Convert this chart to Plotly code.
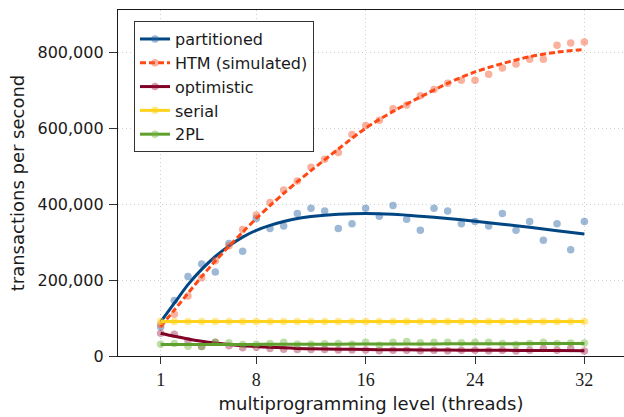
import plotly.graph_objects as go

threads = list(range(1, 33))

# measured points (transactions per second)
partitioned = [77000, 146000, 209000, 242000, 221000, 296000, 276000, 362000,
               336000, 342000, 375000, 389000, 382000, 336000, 348000, 389000,
               368000, 396000, 360000, 331000, 389000, 382000, 348000, 354000,
               342000, 375000, 331000, 354000, 305000, 348000, 280000, 354000]
htm = [83000, 110000, 158000, 206000, 251000, 290000, 333000, 371000,
       404000, 437000, 461000, 497000, 518000, 536000, 583000, 607000,
       621000, 651000, 661000, 685000, 702000, 718000, 726000, 726000,
       742000, 758000, 769000, 781000, 781000, 818000, 824000, 827000]
optimistic = [60000, 57000, 40000, 25000, 36000, 27000, 22000, 23000,
              20000, 18000, 17000, 17000, 17000, 16000, 16000, 16000,
              14000, 15000, 15000, 14000, 15000, 14000, 15000, 15000,
              14000, 15000, 13000, 15000, 20000, 15000, 20000, 13000]
serial = [91000] * 32
two_pl = [31000, 33000, 26000, 25000, 36000, 35000, 30000, 31000,
          33000, 36000, 31000, 31000, 32000, 33000, 31000, 36000,
          28000, 36000, 38000, 35000, 36000, 36000, 35000, 36000,
          36000, 33000, 30000, 33000, 36000, 33000, 34000, 34000]

# fitted curves
fit_x = [1, 2, 3, 4, 5, 6, 7, 8, 9, 10, 11, 12, 14, 16, 18, 20, 22, 24,
         26, 28, 30, 32]
fit_partitioned = [90000, 139000, 188000, 228000, 262000, 290000, 313000,
                   331000, 344000, 354000, 362000, 367000, 373000, 375000,
                   373000, 368000, 362000, 355000, 347000, 339000, 330000,
                   321000]
fit_htm = [77000, 121000, 165000, 209000, 250000, 289000, 326000, 362000,
           396000, 428000, 459000, 488000, 545000, 600000, 644000, 682000,
           718000, 748000, 770000, 788000, 800000, 807000]
fit_optimistic = [60000, 52000, 45000, 39000, 34000, 30000, 27000, 25000,
                  23000, 21500, 20000, 19000, 18000, 17000, 16500, 16000,
                  15500, 15000, 15000, 14500, 14200, 14000]
fit_serial = [91000] * 22
fit_two_pl = [30000, 30050, 30100, 30200, 30300, 30400, 30500, 30600,
              30700, 30800, 30900, 31000, 31200, 31400, 31600, 31800,
              32000, 32200, 32400, 32600, 32800, 33000]

names = ["partitioned", "HTM (simulated)", "optimistic", "serial", "2PL"]
line_colors = ["rgb(0,70,130)", "rgb(255,72,20)", "rgb(128,0,38)",
               "rgb(255,210,30)", "rgb(95,160,45)"]
point_colors = ["rgba(40,100,165,0.45)", "rgba(245,100,60,0.5)",
                "rgba(150,20,60,0.4)", "rgba(255,210,30,0.5)",
                "rgba(110,180,60,0.45)"]
dashes = ["solid", "6px,3px", "solid", "solid", "solid"]
points = [partitioned, htm, optimistic, serial, two_pl]
fits = [fit_partitioned, fit_htm, fit_optimistic, fit_serial, fit_two_pl]

fig = go.Figure()

for i in range(5):
    fig.add_trace(go.Scatter(
        x=threads, y=points[i], mode="markers", showlegend=False,
        marker=dict(size=7.5, color=point_colors[i], line=dict(width=0)),
        hoverinfo="skip"))
    fig.add_trace(go.Scatter(
        x=fit_x, y=fits[i], mode="lines", showlegend=False,
        line=dict(color=line_colors[i], width=3, dash=dashes[i],
                  shape="spline", smoothing=0.8),
        hoverinfo="skip"))

# legend entries
for i in range(5):
    fig.add_trace(go.Scatter(
        x=[None], y=[None], mode="lines+markers", name=names[i],
        line=dict(color=line_colors[i], width=3, dash=dashes[i]),
        marker=dict(size=7.5, color=point_colors[i], line=dict(width=0))))

fig.update_layout(
    width=624, height=417,
    margin=dict(l=118, r=0, t=10, b=61),
    paper_bgcolor="white", plot_bgcolor="white",
    font=dict(family="DejaVu Sans", color="#1a1a1a"),
    legend=dict(
        x=0.0316, y=0.968, xanchor="left", yanchor="top",
        bgcolor="white", bordercolor="#333", borderwidth=1,
        font=dict(family="DejaVu Sans", size=16, color="#1a1a1a"),
        tracegroupgap=0, itemwidth=30),
)

fig.update_xaxes(
    range=[-2.12, 34.9],
    tickvals=[1, 8, 16, 24, 32],
    ticktext=["1", "8", "16", "24", "32"],
    tickfont=dict(family="Liberation Serif", size=18, color="#1a1a1a"),
    ticks="outside", ticklen=7, tickcolor="#333", tickwidth=1,
    showline=True, linecolor="#1a1a1a", linewidth=1.3, mirror=True,
    showgrid=True, gridcolor="#d0d0d0", griddash="1px,3px", gridwidth=1,
    zeroline=False,
    title=dict(text="multiprogramming level (threads)",
               font=dict(family="DejaVu Sans", size=18, color="#1a1a1a"),
               standoff=8),
)

fig.update_yaxes(
    range=[0, 911000],
    tickvals=[0, 200000, 400000, 600000, 800000],
    tickformat=",d",
    tickfont=dict(family="DejaVu Sans", size=16, color="#1a1a1a"),
    ticks="outside", ticklen=8, tickcolor="#333", tickwidth=1,
    ticklabelstandoff=2,
    showline=True, linecolor="#1a1a1a", linewidth=1.3,
    showgrid=True, gridcolor="#d0d0d0", griddash="1px,3px", gridwidth=1,
    zeroline=False,
    title=dict(text="transactions per second",
               font=dict(family="DejaVu Sans", size=18, color="#1a1a1a"),
               standoff=8),
)

fig.write_html("out.html")
